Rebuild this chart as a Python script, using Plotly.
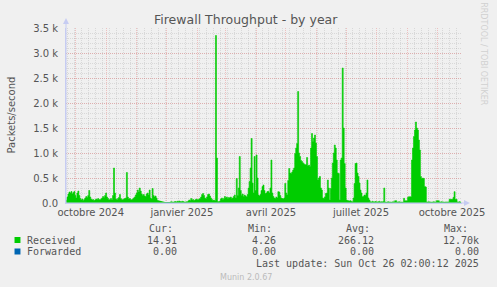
import pandas as pd
import plotly.graph_objects as go

# ---------------- data ----------------
start_date = "2024-09-21"
end_date = "2025-10-26"
n_days = 400

# daily averages (packets/second), Sep 21 2024 .. Dec 22 2024
received_autumn = [
    60, 120, 180, 220, 200, 230, 180, 210, 230, 150,
    100, 200, 240, 150, 90, 60, 80, 50, 70, 100,
    130, 110, 150, 250, 120, 80, 60, 70, 50, 60,
    80, 70, 90, 70, 60, 80, 100, 130, 110, 150,
    200, 120, 90, 60, 70, 90, 60, 150, 700, 200,
    80, 60, 90, 110, 170, 90, 70, 60, 80, 90,
    100, 610, 120, 80, 90, 70, 60, 80, 100, 120,
    160, 200, 260, 220, 300, 240, 180, 150, 170, 140,
    130, 180, 200, 160, 260, 100, 80, 290, 150, 120,
    140, 100, 60,
]
# no data recorded
received_missing = [None] * 9
# Jan 1 2025 .. Oct 25 2025
received_2025 = [
    10, 5, 10, 20, 25, 20, 15, 25, 30, 20,
    35, 30, 40, 30, 25, 35, 30, 20, 15, 25,
    20, 40, 60, 50, 90, 60, 70, 50, 60, 80,
    70, 60, 80, 90, 120, 170, 190, 150, 100, 80,
    120, 170, 180, 140, 100, 70, 50, 60, 40, 3350,
    900, 30, 20, 40, 80, 100, 70, 90, 130, 100,
    120, 90, 110, 100, 120, 90, 100, 130, 160, 100,
    490, 150, 300, 930, 250, 150, 180, 130, 160, 140,
    120, 170, 300, 430, 700, 1290, 400, 200, 930, 250,
    960, 500, 160, 140, 170, 250, 330, 360, 250, 190,
    200, 230, 230, 200, 300, 860, 200, 130, 100, 90,
    120, 100, 227, 220, 150, 100, 90, 80, 100, 390,
    200, 160, 450, 690, 600, 590, 620, 660, 700, 990,
    1100, 1190, 2230, 1000, 930, 850, 830, 800, 780, 760,
    770, 910, 740, 760, 730, 1100, 1390, 1230, 1300, 1360,
    1200, 930, 460, 500, 530, 300, 260, 100, 90, 120,
    190, 200, 460, 300, 60, 290, 500, 800, 1000, 1160,
    1100, 860, 600, 590, 60, 860, 900, 2700, 1500, 790,
    300, 60, 50, 45, 40, 47, 30, 27, 100, 390,
    790, 800, 600, 530, 400, 260, 200, 127, 130, 160,
    150, 200, 460, 100, 60, 25, 20, 30, 25, 20,
    30, 25, 20, 25, 30, 20, 25, 20, 30, 300,
    20, 15, 20, 25, 20, 20, 15, 20, 25, 20,
    47, 47, 20, 20, 25, 20, 20, 15, 20, 93,
    47, 47, 47, 113, 127, 127, 127, 860, 1100, 1330,
    1460, 1620, 1500, 1460, 1260, 1060, 530, 490, 500, 490,
    330, 320, 20, 20, 25, 20, 20, 15, 20, 25,
    20, 20, 47, 47, 47, 20, 20, 25, 20, 20,
    15, 20, 20, 20, 20, 73, 73, 73, 73, 113,
    227, 73, 73, 20, 20, 25, 20, 15,
]
received = received_autumn + received_missing + received_2025
forwarded = [0.0] * n_days
dates = pd.date_range(start_date, periods=len(received), freq="D")

y_tick_vals = [0, 500, 1000, 1500, 2000, 2500, 3000, 3500]
y_tick_text = ["0.0", "0.5 k", "1.0 k", "1.5 k", "2.0 k", "2.5 k", "3.0 k", "3.5 k"]
x_label_dates = ["2024-10-16", "2025-01-16", "2025-04-16", "2025-07-16", "2025-10-16"]
x_label_text = ["octobre 2024", "janvier 2025", "avril 2025", "juillet 2025", "octobre 2025"]

series_names = ["Received", "Forwarded"]
series_colors = ["#00CC00", "#0066B3"]
stat_cur = ["14.91", "0.00"]
stat_min = ["4.26", "0.00"]
stat_avg = ["266.12", "0.00"]
stat_max = ["12.70k", "0.00"]

# ---------------- layout helpers ----------------
W, H = 497, 287
L, R, T, B = 66, 466, 28, 203
def px(x):
    return (x - L) / (R - L)
def py(y):
    return (B - y) / (B - T)

BG = "#F0F0F0"
AXIS = "#C6CCF2"
TXT = "#555555"
MONO = "DejaVu Sans Mono"
SANS = "DejaVu Sans"

fig = go.Figure()
fig.add_trace(go.Scatter(
    x=dates, y=forwarded, mode="lines", name="Forwarded",
    line=dict(color=series_colors[1], width=2, shape="hv"),
    hoverinfo="skip", showlegend=False))
fig.add_trace(go.Scatter(
    x=dates, y=received, mode="lines", name="Received",
    line=dict(color=series_colors[0], width=0.6, shape="hv"),
    fill="tozeroy", fillcolor=series_colors[0], connectgaps=False,
    hoverinfo="skip", showlegend=False))
# helper trace so that the label axis is drawn
fig.add_trace(go.Scatter(x=[dates[0]], y=[None], xaxis="x2", mode="lines",
                         showlegend=False, hoverinfo="skip"))

grid_major = "rgba(230,90,90,0.33)"
grid_minor = "rgba(130,130,130,0.22)"

fig.update_layout(
    width=W, height=H,
    margin=dict(l=L, r=W - R, t=T, b=H - B),
    paper_bgcolor=BG, plot_bgcolor=BG,
    showlegend=False,
    xaxis=dict(
        type="date", range=[start_date, end_date],
        tick0="2024-10-01", dtick="M1",
        showticklabels=False, ticks="",
        showgrid=True, gridcolor=grid_major, griddash="1px,1px", gridwidth=1,
        minor=dict(dtick=7 * 86400000, tick0="2024-09-23", showgrid=True,
                   gridcolor=grid_minor, griddash="1px,1px", gridwidth=1),
        showline=True, linecolor=AXIS, linewidth=1,
        zeroline=False, fixedrange=True,
    ),
    xaxis2=dict(
        type="date", range=[start_date, end_date], overlaying="x",
        side="bottom", anchor="y",
        tickvals=x_label_dates, ticktext=x_label_text,
        tickfont=dict(family=SANS, size=10, color=TXT),
        ticks="", showgrid=False, showline=False, zeroline=False,
        ticklabelstandoff=2,
    ),
    yaxis=dict(
        range=[0, 3500],
        tickvals=y_tick_vals, ticktext=y_tick_text,
        tickfont=dict(family=SANS, size=10, color=TXT),
        ticks="", ticklabelstandoff=5,
        showgrid=True, gridcolor=grid_major, griddash="1px,1px", gridwidth=1,
        minor=dict(dtick=100, tick0=0, showgrid=True,
                   gridcolor=grid_minor, griddash="1px,1px", gridwidth=1),
        showline=True, linecolor=AXIS, linewidth=1,
        zeroline=False, fixedrange=True,
    ),
)

shapes = []
# axis extensions and arrows
shapes.append(dict(type="line", xref="paper", yref="paper",
                   x0=px(L), x1=px(L), y0=py(B), y1=py(22),
                   line=dict(color=AXIS, width=1)))
shapes.append(dict(type="path", xref="paper", yref="paper",
                   path=f"M {px(L-3)} {py(24)} L {px(L+3)} {py(24)} L {px(L)} {py(18)} Z",
                   fillcolor=AXIS, line=dict(width=0)))
shapes.append(dict(type="line", xref="paper", yref="paper",
                   x0=px(L), x1=px(470), y0=py(B), y1=py(B),
                   line=dict(color=AXIS, width=1)))
shapes.append(dict(type="path", xref="paper", yref="paper",
                   path=f"M {px(468)} {py(B-3)} L {px(468)} {py(B+3)} L {px(474)} {py(B)} Z",
                   fillcolor=AXIS, line=dict(width=0)))
# legend squares
for i, c in enumerate(series_colors):
    yc = 240 + i * 11.5
    shapes.append(dict(type="rect", xref="paper", yref="paper",
                       x0=px(14), x1=px(20), y0=py(yc - 3), y1=py(yc + 3),
                       fillcolor=c, line=dict(width=0)))
fig.update_layout(shapes=shapes)

ann = []
def text(x, y, s, anchor="left", size=10, color=TXT, family=MONO, angle=0):
    ann.append(dict(xref="paper", yref="paper", x=px(x), y=py(y), text=s,
                    showarrow=False, xanchor=anchor, yanchor="middle",
                    textangle=angle, borderpad=0,
                    font=dict(family=family, size=size, color=color)))

text(248, 19, "Firewall Throughput - by year", anchor="center", size=12.5,
     family=SANS, color="#555555")
text(10, 115, "Packets/second", anchor="center", size=10, family=SANS, angle=-90)
text(488, 54, "RRDTOOL / TOBI OETIKER", anchor="center", size=8,
     family=SANS, color="#D0D0D0", angle=90)

# legend table
text(149, 228, "Cur:")
text(249, 228, "Min:")
text(348, 228, "Avg:")
text(447, 228, "Max:")
for i, name in enumerate(series_names):
    yr = 240 + i * 11.5
    text(26, yr, name)
    text(179, yr, stat_cur[i], anchor="right")
    text(279, yr, stat_min[i], anchor="right")
    text(378, yr, stat_avg[i], anchor="right")
    text(484, yr, stat_max[i], anchor="right")
text(484, 263, "Last update: Sun Oct 26 02:00:12 2025", anchor="right")
text(248, 277, "Munin 2.0.67", anchor="center", size=8, family=SANS, color="#BBBBBB")
fig.update_layout(annotations=ann)

fig.write_html("out.html")
